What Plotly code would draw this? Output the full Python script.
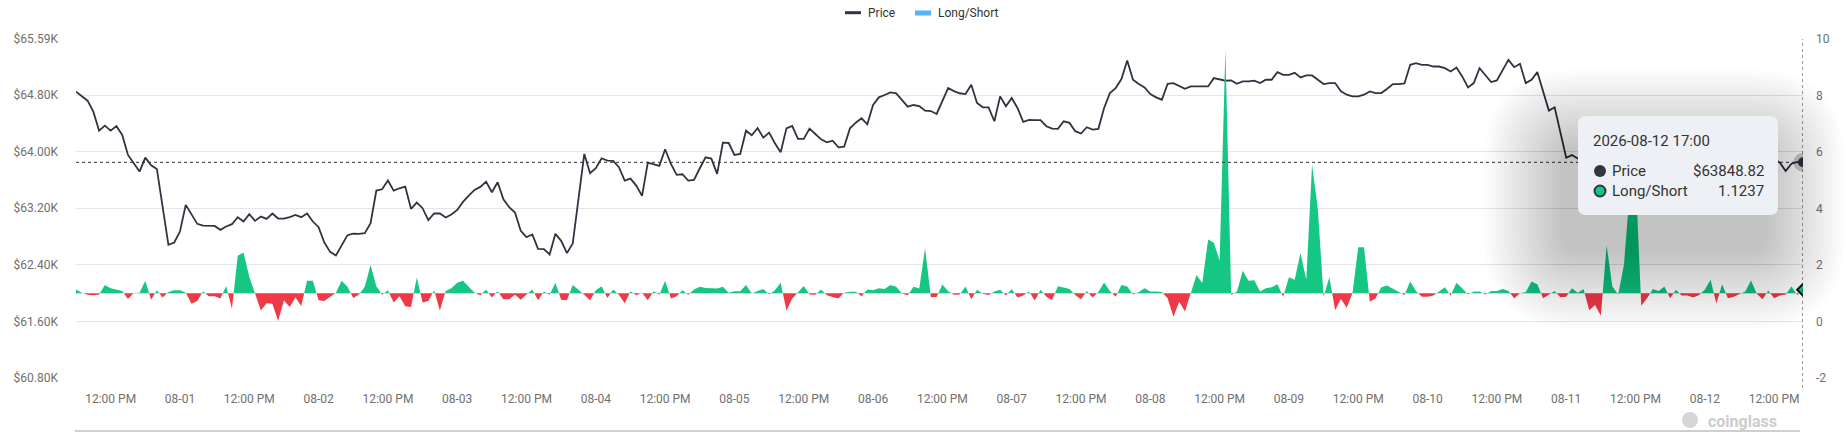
import plotly.graph_objects as go
import pandas as pd


# chart data ==========================================
start_time = "2026-07-31 06:00"   # first hourly candle
n_hours = 300

# BTC price, hourly (hours hidden under the tooltip are estimates)
price = [
    64847, 64786, 64720, 64565, 64296, 64367, 64296, 64362, 64235, 63953,
    63835, 63718, 63915, 63807, 63755, 63223, 62682, 62715, 62870, 63247,
    63106, 62979, 62955, 62950, 62950, 62894, 62941, 62974, 63073, 63012,
    63115, 63021, 63082, 63049, 63125, 63054, 63054, 63073, 63106, 63073,
    63125, 63012, 62932, 62715, 62583, 62532, 62673, 62819, 62842, 62838,
    62847, 62988,
    63449, 63468, 63591, 63449, 63482, 63506, 63191, 63280, 63200, 63031,
    63125, 63125, 63068, 63111, 63176, 63289, 63379, 63459, 63501, 63576,
    63426, 63567, 63327, 63214, 63139, 62880, 62790, 62828, 62626, 62621,
    62546, 62838, 62739, 62565, 62701, 63318, 63967, 63694, 63765, 63906,
    63873, 63868, 63779, 63591, 63619, 63520, 63374, 63845, 63821, 63798,
    64033,
    63826, 63671, 63680, 63591, 63600, 63765, 63920, 63901, 63685, 64127,
    64122, 63953, 63967, 64296, 64231, 64334, 64198, 64268, 64118, 63991,
    64329, 64362, 64179, 64179, 64325, 64249, 64174, 64132, 64155, 64061,
    64071, 64329, 64409, 64471, 64386, 64659, 64767, 64800, 64838, 64824,
    64729, 64635, 64659, 64645, 64579, 64574, 64532, 64729, 64899, 64856,
    64825,
    64814, 64945, 64687, 64626, 64626, 64429, 64781, 64641, 64758, 64617,
    64420, 64448, 64444, 64444, 64359, 64326, 64322, 64429, 64406, 64289,
    64256, 64345, 64312, 64322, 64617, 64828, 64898, 65025, 65288, 65016,
    64955, 64908, 64814, 64767, 64734, 64959, 64969, 64931, 64889, 64922,
    64922, 64913, 64922, 65039, 65016, 65002, 65006, 64959, 64992, 64992,
    65004,
    64969, 65016, 65016, 65124, 65086, 65086, 65114, 65049, 65077, 65077,
    65016, 64955, 64969, 64969, 64852, 64805, 64781, 64781, 64805, 64852,
    64828, 64828, 64889, 64955, 64955, 64964, 65227, 65250, 65227, 65227,
    65203, 65203, 65180, 65133, 65189, 65063, 64908, 64969, 65180, 65086,
    64983, 65006, 65142, 65297, 65194, 65241, 64969, 65016, 65124, 64840,
    64580,
    64626, 64289, 63914, 63951, 63904,
    63930, 63880, 63960, 63910, 63870, 63940, 63990, 63950, 63890, 63920,
    63860, 63900, 63970, 64010, 63960, 63930, 63880, 63850, 63900, 63940,
    63910, 63870, 63820, 63860, 63910, 63950, 63920, 63880, 63900, 63930,
    63890, 63860, 63880, 63900,
    63843, 63726, 63829, 63853, 63848.82,
]

# long/short ratio, hourly
long_short = [
    1.13, 1.02, 0.95, 0.93, 0.96, 1.29, 1.18, 1.13, 1.08, 0.80,
    1.01, 1.02, 1.44, 0.77, 1.11, 0.85, 1.04, 1.11, 1.11, 1.02,
    0.63, 0.73, 1.07, 0.89, 0.89, 0.81, 1.26, 0.45, 2.33, 2.44,
    1.58, 0.99, 0.39, 0.65, 0.63, 0.02, 0.75, 0.51, 0.85, 0.55,
    1.44, 1.44, 0.75, 0.73, 0.89, 1.02, 1.44, 1.23, 0.83, 0.96,
    1.23, 2.00,
    1.25, 0.95, 1.11, 0.67, 0.89, 0.54, 0.51, 1.56, 0.67, 0.73,
    1.11, 0.39, 1.08, 1.18, 1.37, 1.44, 1.23, 1.02, 0.93, 1.13,
    0.85, 1.07, 0.79, 0.79, 0.95, 0.77, 0.96, 1.13, 0.75, 1.06,
    0.95, 1.37, 0.77, 0.75, 1.29, 1.13, 0.95, 0.75, 1.11, 1.25,
    0.83, 1.13, 0.95, 0.65, 1.07, 0.93, 1.02, 0.75, 1.07, 0.95,
    1.44,
    0.81, 0.89, 1.11, 0.95, 1.13, 1.23, 1.19, 1.17, 1.17, 1.23,
    1.02, 1.07, 1.07, 1.29, 0.99, 1.08, 1.15, 0.96, 1.11, 1.37,
    0.39, 0.81, 1.02, 1.26, 0.96, 0.95, 1.13, 0.93, 0.87, 0.81,
    1.02, 1.05, 1.05, 0.89, 1.13, 1.11, 1.18, 1.15, 1.29, 1.23,
    0.99, 0.93, 1.23, 1.17, 2.60, 0.87, 0.87, 1.31, 1.07, 0.95,
    0.96,
    1.24, 0.79, 1.12, 0.98, 0.94, 1.06, 1.12, 0.92, 1.15, 0.85,
    0.92, 1.06, 0.74, 1.12, 0.88, 0.76, 1.25, 1.20, 1.15, 0.94,
    0.79, 1.08, 0.85, 1.04, 1.38, 1.08, 0.88, 1.29, 1.24, 0.96,
    1.04, 1.18, 1.06, 1.06, 1.04, 0.82, 0.17, 0.70, 0.35, 1.00,
    1.65, 1.36, 2.90, 2.79, 2.15, 9.63, 0.94, 1.06, 1.80, 1.44,
    1.46,
    1.06, 1.18, 1.21, 1.32, 0.88, 1.57, 1.48, 2.43, 1.48, 5.56,
    3.98, 0.88, 1.57, 0.40, 0.80, 0.49, 1.00, 2.63, 2.63, 0.70,
    0.82, 1.21, 1.27, 1.15, 1.06, 0.94, 1.42, 1.08, 0.88, 0.88,
    0.92, 1.06, 1.21, 0.92, 1.37, 1.18, 0.96, 1.06, 1.06, 0.96,
    1.08, 1.08, 1.15, 1.08, 0.82, 1.00, 1.04, 1.42, 1.32, 0.82,
    0.96,
    1.08, 0.86, 0.88, 1.18, 1.02, 1.15, 0.40, 0.58, 0.20, 2.69,
    1.24, 0.96, 2.01, 4.60, 5.20, 0.56, 0.82, 1.15, 1.08, 1.24,
    0.82, 1.12, 0.92, 0.92, 0.85, 0.94, 1.12, 1.48, 0.64, 1.32,
    0.82, 0.88, 0.96, 1.06, 1.45, 0.98, 0.79, 1.10, 0.82, 0.92,
    0.96, 1.24, 0.94, 1.1237,
]

ratio_base = 1.0   # green above, red below

x_tick_times = [
    "2026-07-31 12:00", "2026-08-01 00:00", "2026-08-01 12:00", "2026-08-02 00:00",
    "2026-08-02 12:00", "2026-08-03 00:00", "2026-08-03 12:00", "2026-08-04 00:00",
    "2026-08-04 12:00", "2026-08-05 00:00", "2026-08-05 12:00", "2026-08-06 00:00",
    "2026-08-06 12:00", "2026-08-07 00:00", "2026-08-07 12:00", "2026-08-08 00:00",
    "2026-08-08 12:00", "2026-08-09 00:00", "2026-08-09 12:00", "2026-08-10 00:00",
    "2026-08-10 12:00", "2026-08-11 00:00", "2026-08-11 12:00", "2026-08-12 00:00",
    "2026-08-12 12:00",
]
x_tick_labels = [
    "12:00 PM", "08-01", "12:00 PM", "08-02", "12:00 PM", "08-03", "12:00 PM",
    "08-04", "12:00 PM", "08-05", "12:00 PM", "08-06", "12:00 PM", "08-07",
    "12:00 PM", "08-08", "12:00 PM", "08-09", "12:00 PM", "08-10", "12:00 PM",
    "08-11", "12:00 PM", "08-12", "12:00 PM",
]

price_ticks = [60800, 61600, 62400, 63200, 64000, 64800, 65592]
price_tick_labels = ["$60.80K", "$61.60K", "$62.40K", "$63.20K", "$64.00K", "$64.80K", "$65.59K"]
ratio_ticks = [-2, 0, 2, 4, 6, 8, 10]
ratio_tick_labels = ["-2", "0", "2", "4", "6", "8", "10"]

assert len(price) == n_hours and len(long_short) == n_hours

times = pd.date_range(start_time, periods=n_hours, freq="h")


# look ==============================================
W, H = 1846, 432
ML, MR, MT, MB = 76, 43, 39, 54
PW, PH = W - ML - MR, H - MT - MB

FONT = "Roboto"
DARK = "#2f3540"
GREEN = "#16c784"
RED = "#ef3946"
GRID = "#e6e6e6"
TICK = "#707070"


def px(x):
    """pixel x -> paper x"""
    return (x - ML) / PW


def py(y):
    """pixel y (from top) -> paper y"""
    return (H - MB - y) / PH


def rounded_box(x0, y0, x1, y1, r):
    """
    SVG path of a rounded rectangle given in pixels, returned in paper coords.
    """
    X, Y = px, py
    return (
        f"M {X(x0 + r)},{Y(y0)} L {X(x1 - r)},{Y(y0)} Q {X(x1)},{Y(y0)} {X(x1)},{Y(y0 + r)} "
        f"L {X(x1)},{Y(y1 - r)} Q {X(x1)},{Y(y1)} {X(x1 - r)},{Y(y1)} "
        f"L {X(x0 + r)},{Y(y1)} Q {X(x0)},{Y(y1)} {X(x0)},{Y(y1 - r)} "
        f"L {X(x0)},{Y(y0 + r)} Q {X(x0)},{Y(y0)} {X(x0 + r)},{Y(y0)} Z"
    )


def label(text, x, y, size=12, color="#333333", anchor="left", weight="normal"):
    return dict(
        text=text, x=px(x), y=py(y), xref="paper", yref="paper",
        xanchor=anchor, yanchor="middle", showarrow=False,
        font=dict(family=FONT, size=size, color=color, weight=weight),
    )


# traces ============================================
fig = go.Figure()

# baseline for the long/short area
fig.add_trace(go.Scatter(
    x=times, y=[ratio_base] * n_hours, yaxis="y2",
    mode="lines", line=dict(width=0, color="rgba(0,0,0,0)"),
    showlegend=False, hoverinfo="skip",
))

split = (ratio_base - ratio_ticks[0]) / (ratio_ticks[-1] - ratio_ticks[0])
fig.add_trace(go.Scatter(
    x=times, y=long_short, yaxis="y2", name="Long/Short",
    mode="lines", line=dict(width=0, color=GREEN),
    fill="tonexty",
    fillgradient=dict(
        type="vertical",
        colorscale=[[0, RED], [split, RED], [split, GREEN], [1, GREEN]],
        start=ratio_ticks[0], stop=ratio_ticks[-1],
    ),
    showlegend=False,
))

fig.add_trace(go.Scatter(
    x=times, y=price, name="Price", mode="lines",
    line=dict(color=DARK, width=1.8),
    showlegend=False,
))

# hover markers on the last candle
fig.add_trace(go.Scatter(
    x=[times[-1]], y=[price[-1]], mode="markers",
    marker=dict(size=19, color="rgba(70,70,70,0.25)"), showlegend=False,
))
fig.add_trace(go.Scatter(
    x=[times[-1]], y=[price[-1]], mode="markers",
    marker=dict(size=10, color=DARK), showlegend=False,
))
fig.add_trace(go.Scatter(
    x=[times[-1]], y=[long_short[-1]], yaxis="y2", mode="markers",
    marker=dict(size=9, symbol="diamond", color=GREEN, line=dict(color="#111111", width=2)),
    showlegend=False,
))


# shapes: axis pointer, tooltip, legend icons =======
shapes = []
shapes.append(dict(  # horizontal pointer at the hovered price
    type="line", xref="paper", yref="y", x0=0, x1=1, y0=price[-1], y1=price[-1],
    line=dict(color="#333333", width=1, dash="dot"), layer="above",
))
shapes.append(dict(  # vertical pointer at the hovered time
    type="line", xref="x", yref="paper", x0=times[-1], x1=times[-1], y0=py(388), y1=1,
    line=dict(color="#333333", width=1, dash="dot"), layer="above",
))

# soft shadow behind the tooltip (stacked translucent boxes)
box = (1578, 116, 1778, 215)
for i in range(20):
    e = 4 * (i + 1)
    shapes.append(dict(
        type="path", xref="paper", yref="paper", layer="above",
        path=rounded_box(box[0] - e - 14, box[1] - e + 34, box[2] + e - 14, box[3] + e + 34, 14 + e),
        fillcolor="rgba(0,0,0,0.012)", line=dict(width=0),
    ))
shapes.append(dict(
    type="path", xref="paper", yref="paper", layer="above",
    path=rounded_box(*box, 8), fillcolor="#edf0f4", line=dict(width=0),
))
# tooltip bullets
shapes.append(dict(type="circle", xref="paper", yref="paper", layer="above",
                   x0=px(1594), x1=px(1606), y0=py(177), y1=py(165),
                   fillcolor="#33363d", line=dict(width=0)))
shapes.append(dict(type="circle", xref="paper", yref="paper", layer="above",
                   x0=px(1594.5), x1=px(1605.5), y0=py(196.5), y1=py(185.5),
                   fillcolor=GREEN, line=dict(color="#33363d", width=2)))

# legend icons
shapes.append(dict(type="line", xref="paper", yref="paper", x0=px(845), x1=px(861),
                   y0=py(12.7), y1=py(12.7), line=dict(color=DARK, width=3)))
shapes.append(dict(type="rect", xref="paper", yref="paper", x0=px(915), x1=px(931),
                   y0=py(15.5), y1=py(10.5), fillcolor="#55b4f5", line=dict(width=0)))

# bottom rule under the axis labels
shapes.append(dict(type="line", xref="paper", yref="paper", x0=px(75), x1=px(1800),
                   y0=py(431), y1=py(431), line=dict(color="#a0a0a0", width=1)))

# watermark head
shapes.append(dict(type="circle", xref="paper", yref="paper", x0=px(1682), x1=px(1698),
                   y0=py(428), y1=py(412), fillcolor="#d6d6d6", line=dict(width=0)))

annotations = [
    label("Price", 866, 12.7),
    label("Long/Short", 936, 12.7),
    label("2026-08-12 17:00", 1591, 141, size=15),
    label("Price", 1610, 171, size=15),
    label(f"${price[-1]:.2f}", 1766, 171, size=15, anchor="right"),
    label("Long/Short", 1610, 191, size=15),
    label(f"{long_short[-1]:.4f}", 1766, 191, size=15, anchor="right"),
    label("coinglass", 1742, 421, size=16, color="#cccccc", anchor="center", weight="bold"),
]


# layout ============================================
fig.update_layout(
    width=W, height=H,
    margin=dict(l=ML, r=MR, t=MT, b=MB),
    paper_bgcolor="white", plot_bgcolor="white",
    font=dict(family=FONT, size=12, color=TICK),
    hovermode=False,
    showlegend=False,
    xaxis=dict(
        type="date", range=[times[0], times[-1]],
        tickvals=x_tick_times, ticktext=x_tick_labels,
        showgrid=False, zeroline=False, showline=False,
        ticks="", ticklabelstandoff=12,
        tickfont=dict(family=FONT, size=12, color=TICK),
    ),
    yaxis=dict(
        range=[price_ticks[0], price_ticks[-1]],
        tickvals=price_ticks, ticktext=price_tick_labels,
        showgrid=True, gridcolor=GRID, gridwidth=1,
        zeroline=False, showline=False, ticks="", ticklabelstandoff=17,
        tickfont=dict(family=FONT, size=12, color=TICK),
    ),
    yaxis2=dict(
        overlaying="y", side="right",
        range=[ratio_ticks[0], ratio_ticks[-1]],
        tickvals=ratio_ticks, ticktext=ratio_tick_labels,
        showgrid=False, zeroline=False, showline=False, ticks="", ticklabelstandoff=12,
        tickfont=dict(family=FONT, size=12, color=TICK),
    ),
    shapes=shapes,
    annotations=annotations,
)

# the page's default body margin would push the chart 8px off
fig.write_html(
    "out.html",
    config={"displayModeBar": False},
    post_script="document.body.style.margin = '0';",
)
